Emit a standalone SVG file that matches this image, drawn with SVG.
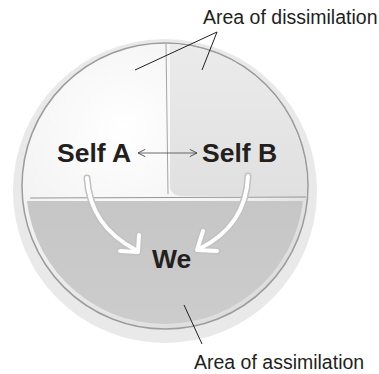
<svg xmlns="http://www.w3.org/2000/svg" width="379" height="374" viewBox="0 0 379 374">
<style>
.lbl{font-family:"Liberation Sans",Arial,sans-serif;font-size:19.5px;fill:#231f20}
.big{font-family:"Liberation Sans",Arial,sans-serif;font-size:26.5px;font-weight:bold;fill:#231f20}
.lead{stroke:#231f20;stroke-width:1;fill:none}
.rib-o{stroke:#c2c2c2;stroke-width:7;fill:none;stroke-linecap:round;stroke-linejoin:round}
.rib-i{stroke:#ffffff;stroke-width:4;fill:none;stroke-linecap:round;stroke-linejoin:round}
</style>
<defs>
<radialGradient id="gDisk" cx="0.35" cy="0.3" r="0.8">
<stop offset="0" stop-color="#ffffff"/>
<stop offset="0.6" stop-color="#f1f1f1"/>
<stop offset="1" stop-color="#d9d9d9"/>
</radialGradient>
<linearGradient id="gRight" x1="0" y1="0" x2="0" y2="1">
<stop offset="0" stop-color="#ececec"/>
<stop offset="1" stop-color="#e0e0e0"/>
</linearGradient>
<linearGradient id="gLow" x1="0" y1="0" x2="0" y2="1">
<stop offset="0" stop-color="#c6c6c6"/>
<stop offset="1" stop-color="#cdcdcd"/>
</linearGradient>
<clipPath id="cDisk"><circle cx="165" cy="186" r="142"/></clipPath>
<clipPath id="cLow"><circle cx="165" cy="185" r="139"/></clipPath>
<marker id="chev" viewBox="0 0 10 10" refX="9" refY="5" markerWidth="9" markerHeight="9" orient="auto-start-reverse" markerUnits="userSpaceOnUse">
<path d="M1,1 L9,5 L1,9" fill="none" stroke="#444" stroke-width="1"/>
</marker>
</defs>

<g id="disk">
<circle cx="165" cy="191" r="152" fill="#e9e9e9"/>
<circle cx="165" cy="186" r="143" fill="url(#gDisk)" stroke="#9c9c9c" stroke-width="1.5"/>
<g clip-path="url(#cDisk)">
<rect x="170" y="30" width="160" height="166" rx="10" fill="url(#gRight)"/>
</g>
<g clip-path="url(#cLow)">
<rect x="20" y="201" width="300" height="140" rx="4" fill="url(#gLow)"/>
</g>
<path d="M30,198 L306,197" stroke="#8a8a8a" stroke-width="0.9" fill="none"/>
<path d="M166,44 L168,194" stroke="#9a9a9a" stroke-width="0.9" fill="none"/>
</g>

<g id="connectors">
<path class="lead" d="M135,70 L217,32 L202,70"/>
<path class="lead" d="M184,305 L202,344"/>
<path d="M138,153 L197,153" stroke="#444" stroke-width="0.8" fill="none" marker-start="url(#chev)" marker-end="url(#chev)"/>
<path class="rib-o" d="M87,178 Q90,226 136,250"/>
<path class="rib-o" d="M120,251 L138,252 L139,235"/>
<path class="rib-i" d="M87,178 Q90,226 136,250"/>
<path class="rib-i" d="M120,251 L138,252 L139,235"/>
<path class="rib-o" d="M248,176 Q246,226 199,249"/>
<path class="rib-o" d="M203,231 L197,250 L217,251"/>
<path class="rib-i" d="M248,176 Q246,226 199,249"/>
<path class="rib-i" d="M203,231 L197,250 L217,251"/>
</g>

<g id="selfA"><text class="big" x="57" y="162">Self A</text></g>
<g id="selfB"><text class="big" x="202" y="162">Self B</text></g>
<g id="we"><text class="big" x="152" y="268">We</text></g>
<g id="label-dissimilation"><text class="lbl" x="203" y="24">Area of dissimilation</text></g>
<g id="label-assimilation"><text class="lbl" x="194" y="369">Area of assimilation</text></g>
</svg>
